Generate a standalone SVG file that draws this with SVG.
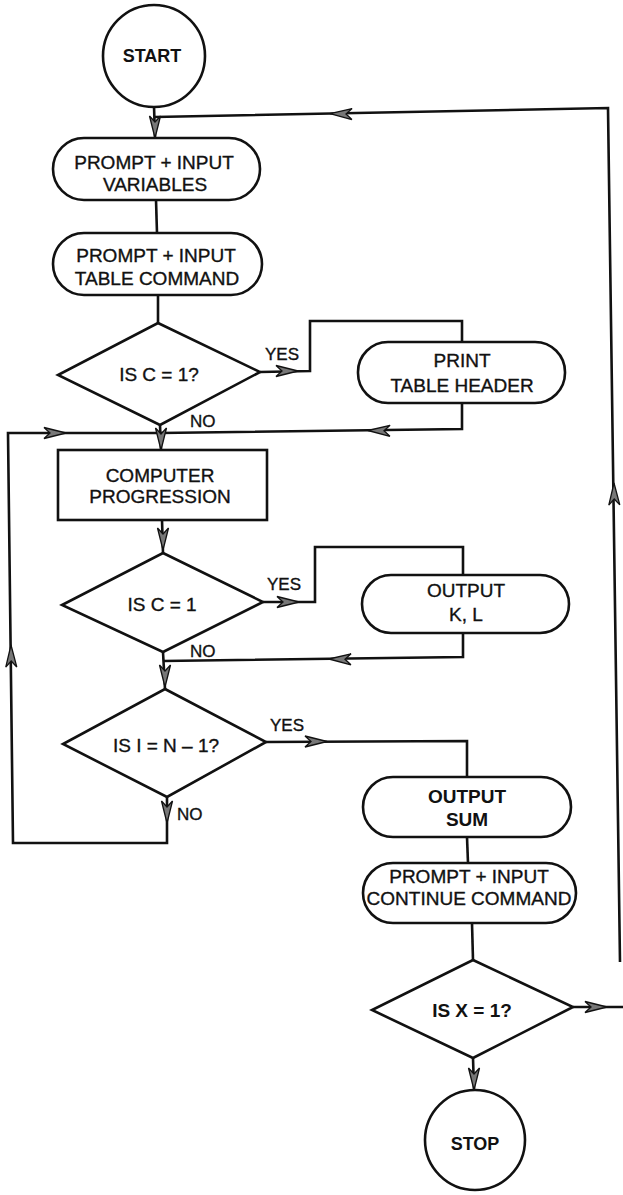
<svg xmlns="http://www.w3.org/2000/svg" width="623" height="1195" viewBox="0 0 623 1195">
<style>
.ln{fill:none;stroke:#111;stroke-width:2.6;stroke-linejoin:miter}
.sh{fill:#fff;stroke:#111;stroke-width:2.6}
.t{font-family:"Liberation Sans",Arial,Helvetica,sans-serif;font-size:19px;fill:#111;stroke:#111;stroke-width:0.35;text-anchor:middle}
.b{font-weight:bold;stroke-width:0}
.lab{font-family:"Liberation Sans",Arial,Helvetica,sans-serif;font-size:17px;fill:#111;stroke:#111;stroke-width:0.35}
</style>
<defs>
<path id="ah" d="M0,0 L-22,-5.5 L-16,0 L-22,5.5 Z" fill="#777" stroke="#111" stroke-width="1.3" stroke-linejoin="miter"/>
</defs>
<rect width="623" height="1195" fill="#fff"/>

<g id="connectors">
<path class="ln" d="M154,106 L155,138"/>
<path class="ln" d="M155,117 L608,108 L620,962"/>
<path class="ln" d="M156,200 L157,233"/>
<path class="ln" d="M158,295 L158,323"/>
<path class="ln" d="M260,372 L310,371 L310,321 L462,321 L462,342"/>
<path class="ln" d="M462,403 L462,429 L160,433"/>
<path class="ln" d="M160,425 L161,450"/>
<path class="ln" d="M167,797 L167,843 L13,843 L8,433 L160,433"/>
<path class="ln" d="M162,520 L163,553"/>
<path class="ln" d="M263,602 L315,602 L315,547 L463,547 L463,575"/>
<path class="ln" d="M463,633 L463,657 L163,661"/>
<path class="ln" d="M163,652 L165,689"/>
<path class="ln" d="M266,742 L467,741 L467,777"/>
<path class="ln" d="M467,837 L468,863"/>
<path class="ln" d="M472,923 L473,960"/>
<path class="ln" d="M573,1007 L623,1007"/>
<path class="ln" d="M473,1058 L474,1090"/>
<use href="#ah" transform="translate(155,138) rotate(90)"/>
<use href="#ah" transform="translate(330,113.7) rotate(181)"/>
<use href="#ah" transform="translate(614,483) rotate(-90.8)"/>
<use href="#ah" transform="translate(298,371)"/>
<use href="#ah" transform="translate(368,430.5) rotate(180.8)"/>
<use href="#ah" transform="translate(66,433)"/>
<use href="#ah" transform="translate(161,450) rotate(90)"/>
<use href="#ah" transform="translate(11,645) rotate(-90.7)"/>
<use href="#ah" transform="translate(163,550) rotate(90)"/>
<use href="#ah" transform="translate(299,602)"/>
<use href="#ah" transform="translate(329,659) rotate(180.8)"/>
<use href="#ah" transform="translate(165,687) rotate(90)"/>
<use href="#ah" transform="translate(167,823) rotate(90)"/>
<use href="#ah" transform="translate(327,741.5)"/>
<use href="#ah" transform="translate(607,1007)"/>
<use href="#ah" transform="translate(474,1090) rotate(90)"/>
<text class="lab" x="265" y="360">YES</text>
<text class="lab" x="190" y="427">NO</text>
<text class="lab" x="267" y="590">YES</text>
<text class="lab" x="190" y="657">NO</text>
<text class="lab" x="270" y="731">YES</text>
<text class="lab" x="177" y="820">NO</text>
</g>

<g id="start">
<circle class="sh" cx="154" cy="56" r="51"/>
<text class="t b" x="152" y="62" style="font-size:18px">START</text>
</g>

<g id="prompt-variables">
<rect class="sh" x="53" y="138" width="207" height="62" rx="31" ry="31"/>
<text class="t" x="154" y="169">PROMPT + INPUT</text>
<text class="t" x="155" y="191">VARIABLES</text>
</g>

<g id="prompt-table">
<rect class="sh" x="53" y="233" width="209" height="62" rx="31" ry="31"/>
<text class="t" x="156" y="262">PROMPT + INPUT</text>
<text class="t" x="157" y="285">TABLE COMMAND</text>
</g>

<g id="decision-c1">
<polygon class="sh" points="158,323 260,372 160,425 58,375"/>
<text class="t" x="159" y="381">IS C = 1?</text>
</g>

<g id="print-header">
<rect class="sh" x="358" y="342" width="207" height="61" rx="30" ry="30"/>
<text class="t" x="462" y="367">PRINT</text>
<text class="t" x="462" y="392">TABLE HEADER</text>
</g>

<g id="compute">
<rect class="sh" x="58" y="450" width="209" height="70"/>
<text class="t" x="160" y="482">COMPUTER</text>
<text class="t" x="160" y="503">PROGRESSION</text>
</g>

<g id="decision-c2">
<polygon class="sh" points="163,553 263,602 163,652 62,605"/>
<text class="t" x="162" y="611">IS C = 1</text>
</g>

<g id="output-kl">
<rect class="sh" x="362" y="575" width="207" height="58" rx="29" ry="29"/>
<text class="t" x="466" y="597">OUTPUT</text>
<text class="t" x="466" y="621">K, L</text>
</g>

<g id="decision-i">
<polygon class="sh" points="165,689 266,742 167,797 63,744"/>
<text class="t" x="166" y="752">IS I = N – 1?</text>
</g>

<g id="output-sum">
<rect class="sh" x="363" y="777" width="208" height="60" rx="30" ry="30"/>
<text class="t b" x="467" y="803">OUTPUT</text>
<text class="t b" x="467" y="826">SUM</text>
</g>

<g id="prompt-continue">
<rect class="sh" x="363" y="863" width="213" height="60" rx="30" ry="30"/>
<text class="t" x="469" y="883">PROMPT + INPUT</text>
<text class="t" x="469" y="905">CONTINUE COMMAND</text>
</g>

<g id="decision-x">
<polygon class="sh" points="473,960 573,1007 473,1058 372,1010"/>
<text class="t b" x="472" y="1017">IS X = 1?</text>
</g>

<g id="stop">
<circle class="sh" cx="475" cy="1140" r="50"/>
<text class="t b" x="475" y="1150" style="font-size:18px">STOP</text>
</g>
</svg>
